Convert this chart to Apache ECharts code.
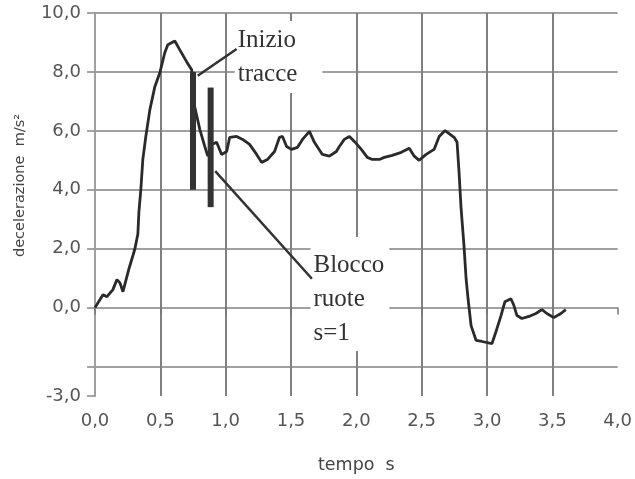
<!DOCTYPE html>
<html>
<head>
<meta charset="utf-8">
<script src="https://cdn.jsdelivr.net/npm/echarts@6/dist/echarts.min.js"></script>
<style>
  html, body { margin: 0; padding: 0; background: #fff; }
  #chart { width: 635px; height: 479px; }
</style>
</head>
<body>
<div id="chart"></div>
<script>
  // time [s] and deceleration [m/s2]
  const timeS = [
    0.000, 0.061, 0.092, 0.137, 0.168, 0.191, 0.214, 0.260, 0.305, 0.328,
    0.336, 0.351, 0.366, 0.389, 0.420, 0.458, 0.496, 0.534, 0.557, 0.611,
    0.649, 0.702, 0.740, 0.763, 0.802, 0.840, 0.863, 0.893, 0.931, 0.969,
    1.008, 1.031, 1.084, 1.130, 1.183, 1.237, 1.275, 1.321, 1.374, 1.412,
    1.435, 1.466, 1.504, 1.550, 1.588, 1.641, 1.679, 1.740, 1.794, 1.847,
    1.870, 1.908, 1.947, 1.985, 2.038, 2.084, 2.122, 2.176, 2.214, 2.275,
    2.344, 2.405, 2.443, 2.481, 2.534, 2.595, 2.634, 2.679, 2.748, 2.771,
    2.786, 2.802, 2.824, 2.840, 2.855, 2.878, 2.916, 2.962, 3.038, 3.069,
    3.107, 3.137, 3.183, 3.206, 3.229, 3.267, 3.321, 3.374, 3.420, 3.458,
    3.511, 3.565, 3.603
  ];
  const decel = [
    0.00, 0.44, 0.37, 0.61, 0.95, 0.84, 0.54, 1.32, 1.99, 2.50,
    3.24, 4.02, 5.03, 5.81, 6.72, 7.50, 7.97, 8.65, 8.92, 9.05,
    8.75, 8.34, 8.07, 6.82, 6.05, 5.47, 5.14, 5.54, 5.61, 5.20,
    5.30, 5.78, 5.81, 5.71, 5.54, 5.20, 4.93, 5.03, 5.30, 5.78,
    5.81, 5.47, 5.37, 5.44, 5.71, 5.98, 5.61, 5.20, 5.14, 5.30,
    5.47, 5.71, 5.81, 5.64, 5.37, 5.10, 5.03, 5.03, 5.10, 5.17,
    5.27, 5.41, 5.14, 5.00, 5.20, 5.37, 5.81, 6.01, 5.78, 5.61,
    4.59, 3.34, 2.09, 0.98, 0.30, -0.61, -1.11, -1.15, -1.22, -0.81,
    -0.27, 0.20, 0.30, 0.07, -0.27, -0.37, -0.30, -0.20, -0.07, -0.20,
    -0.34, -0.20, -0.07
  ];

  // annotation marks, in data units
  const tracceLeader = [[0.786, 7.87], [1.084, 8.78]];
  const tracceBarA = [[0.75, 8.0], [0.75, 4.0]];
  const tracceBarB = [[0.885, 7.47], [0.885, 3.41]];
  const bloccoLeader = [[0.92, 4.63], [1.66, 0.98]];
  const tracceLabelAt = [1.069, 9.73];
  const bloccoLabelAt = [1.649, 2.40];

  const yTickValues = [-3, -2, 0, 2, 4, 6, 8, 10];
  const yLabelValues = [-3, 0, 2, 4, 6, 8, 10];

  const chart = echarts.init(document.getElementById('chart'));
  const fmt = v => v.toFixed(1).replace('.', ',');
  const sansFont = 'DejaVu Sans';

  function markLine(data, width) {
    return {
      type: 'line',
      data: data,
      showSymbol: false,
      symbol: 'none',
      silent: true,
      animation: false,
      z: 4,
      lineStyle: {color: '#333333', width: width, cap: 'butt'}
    };
  }

  const option = {
    animation: false,
    grid: {left: 95, right: 15, top: 13, bottom: 81, containLabel: false},
    xAxis: {
      type: 'value',
      min: 0,
      max: 4,
      interval: 0.5,
      name: 'tempo  s',
      nameLocation: 'middle',
      nameGap: 60,
      nameTextStyle: {fontFamily: sansFont, fontSize: 17.5, color: '#444'},
      axisLine: {show: false},
      axisTick: {show: true, length: 7, lineStyle: {color: '#777', width: 1.5}},
      axisLabel: {
        margin: 16,
        fontFamily: sansFont,
        fontSize: 18,
        color: '#555',
        formatter: fmt
      },
      splitLine: {
        show: true,
        showMinLine: false,
        showMaxLine: false,
        lineStyle: {color: '#808080', width: 2}
      }
    },
    yAxis: {
      type: 'value',
      min: -3,
      max: 10,
      splitNumber: 6,
      name: 'decelerazione  m/s²',
      nameLocation: 'middle',
      nameRotate: 90,
      nameGap: 67,
      nameTextStyle: {
        fontFamily: sansFont,
        fontSize: 14.5,
        color: '#444',
        padding: [0, 0, 0, 38]
      },
      axisLine: {show: true, lineStyle: {color: '#a0a0a0', width: 2}},
      axisTick: {
        show: true,
        length: 8,
        customValues: yTickValues,
        lineStyle: {color: '#888', width: 1.5}
      },
      axisLabel: {
        margin: 14,
        fontFamily: sansFont,
        fontSize: 18,
        color: '#555',
        customValues: yLabelValues,
        formatter: fmt
      },
      splitLine: {
        show: true,
        showMinLine: false,
        lineStyle: {color: '#a0a0a0', width: 2}
      }
    },
    series: [
      {
        type: 'line',
        data: timeS.map((t, i) => [t, decel[i]]),
        showSymbol: false,
        symbol: 'none',
        z: 3,
        lineStyle: {color: '#2a2a2a', width: 2.8}
      },
      markLine(tracceBarA, 6),
      markLine(tracceBarB, 6),
      markLine(tracceLeader, 2.5),
      markLine(bloccoLeader, 2.5)
    ]
  };

  chart.setOption(option);

  const serif = '25px "Liberation Serif", "Times New Roman", serif';
  const p1 = chart.convertToPixel({gridIndex: 0}, tracceLabelAt);
  const p2 = chart.convertToPixel({gridIndex: 0}, bloccoLabelAt);
  chart.setOption({
    graphic: [
      {
        type: 'text',
        x: p1[0],
        y: p1[1],
        z: 1,
        silent: true,
        style: {
          text: 'Inizio\ntracce',
          font: serif,
          fill: '#333',
          lineHeight: 34,
          align: 'left',
          verticalAlign: 'top',
          backgroundColor: '#fff',
          padding: [2, 25, 2, 3]
        }
      },
      {
        type: 'text',
        x: p2[0],
        y: p2[1],
        z: 1,
        silent: true,
        style: {
          text: 'Blocco\nruote\ns=1',
          font: serif,
          fill: '#333',
          lineHeight: 34,
          align: 'left',
          verticalAlign: 'top',
          backgroundColor: '#fff',
          padding: [12, 5, 0, 3]
        }
      }
    ]
  });
</script>
</body>
</html>
